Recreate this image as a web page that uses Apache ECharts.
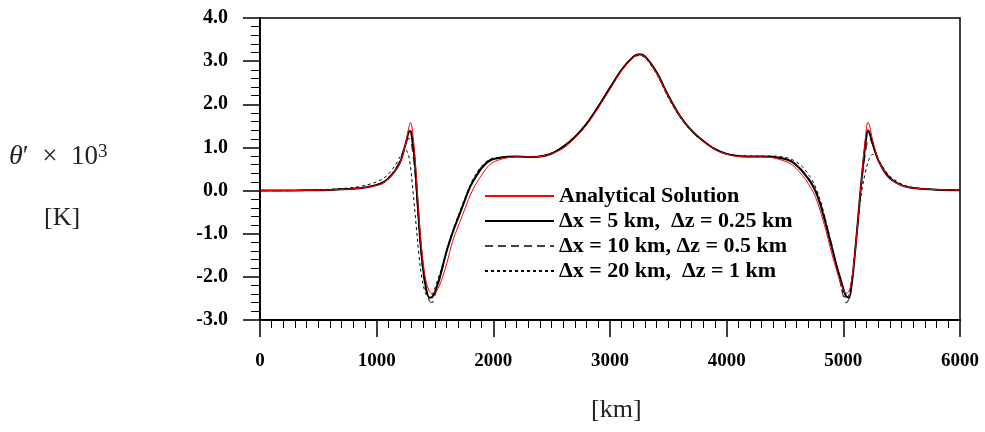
<!DOCTYPE html>
<html>
<head>
<meta charset="utf-8">
<script src="https://cdn.jsdelivr.net/npm/echarts@6/dist/echarts.min.js"></script>
<style>html,body{margin:0;padding:0;background:#fff}#c{width:985px;height:432px}</style>
</head>
<body>
<div id="c"></div>
<script>
// x positions (km)
const xKm = [
  0, 200, 400, 600, 800, 900, 1000,
  1050, 1100, 1150, 1200, 1225, 1250, 1275, 1290,
  1300, 1325, 1350, 1375, 1400, 1425, 1450, 1475, 1500,
  1525, 1550, 1600, 1650, 1700, 1750, 1800, 1850, 1900, 1950, 2000,
  2100, 2200, 2300, 2400, 2500, 2600, 2700, 2800, 2900, 3000, 3100, 3200, 3250,
  3300, 3400, 3500, 3600, 3700, 3800, 3900, 4000, 4100, 4200, 4300, 4400, 4500,
  4550, 4600, 4650, 4700, 4750, 4800, 4850, 4900, 4950, 4975,
  5000, 5025, 5050, 5075, 5100, 5125, 5150, 5175, 5200, 5210,
  5225, 5250, 5275, 5300, 5350, 5400, 5500, 5600, 5800, 6000
];
const analytical = [
  0, 0, 0.005, 0.015, 0.04, 0.07, 0.12,
  0.17, 0.27, 0.42, 0.64, 0.84, 1.1, 1.45, 1.58,
  1.52, 0.9, -0.1, -1.05, -1.72, -2.12, -2.32, -2.39, -2.36,
  -2.27, -2.12, -1.7, -1.18, -0.82, -0.47, -0.12, 0.15, 0.36, 0.55, 0.66,
  0.75, 0.78, 0.78, 0.79, 0.86, 0.98, 1.22, 1.52, 1.92, 2.35, 2.78, 3.09, 3.15,
  3.1, 2.72, 2.18, 1.72, 1.38, 1.14, 0.95, 0.84, 0.79, 0.78, 0.78, 0.76, 0.68,
  0.62, 0.5, 0.35, 0.16, -0.08, -0.45, -0.92, -1.45, -1.92, -2.12,
  -2.3, -2.38, -2.33, -2.0, -1.45, -0.7, 0.1, 0.85, 1.48, 1.58,
  1.5, 1.18, 0.92, 0.72, 0.45, 0.27, 0.12, 0.06, 0.02, 0.01
];
const dx5 = [
  0, 0, 0.005, 0.015, 0.04, 0.07, 0.13,
  0.18, 0.28, 0.43, 0.65, 0.85, 1.1, 1.36, 1.38,
  1.28, 0.72, -0.25, -1.2, -1.85, -2.28, -2.48, -2.47, -2.35,
  -2.15, -1.92, -1.4, -0.98, -0.62, -0.27, 0.08, 0.32, 0.52, 0.66, 0.73,
  0.78, 0.79, 0.78, 0.79, 0.86, 1.02, 1.24, 1.55, 1.95, 2.38, 2.8, 3.1, 3.16,
  3.11, 2.74, 2.2, 1.73, 1.39, 1.15, 0.96, 0.85, 0.8, 0.79, 0.79, 0.78, 0.73,
  0.68, 0.58, 0.44, 0.27, 0.05, -0.3, -0.78, -1.3, -1.82, -2.05,
  -2.28, -2.45, -2.48, -2.1, -1.45, -0.7, 0.08, 0.75, 1.3, 1.39,
  1.33, 1.1, 0.88, 0.7, 0.45, 0.28, 0.12, 0.06, 0.02, 0.01
];
const dx10 = [
  0, 0, 0.005, 0.02, 0.05, 0.08, 0.14,
  0.2, 0.3, 0.46, 0.7, 0.9, 1.1, 1.21, 1.18,
  1.05, 0.5, -0.4, -1.3, -1.95, -2.35, -2.55, -2.6, -2.42,
  -2.2, -1.95, -1.42, -0.98, -0.6, -0.25, 0.1, 0.35, 0.55, 0.68, 0.74,
  0.78, 0.79, 0.78, 0.79, 0.86, 1.02, 1.24, 1.55, 1.95, 2.38, 2.8, 3.1, 3.15,
  3.1, 2.72, 2.18, 1.72, 1.38, 1.14, 0.96, 0.85, 0.8, 0.79, 0.79, 0.78, 0.74,
  0.69, 0.6, 0.47, 0.3, 0.08, -0.25, -0.72, -1.25, -1.85, -2.15,
  -2.45, -2.6, -2.5, -2.05, -1.4, -0.7, 0.0, 0.6, 1.05, 1.17,
  1.2, 1.08, 0.9, 0.72, 0.47, 0.3, 0.13, 0.06, 0.02, 0.01
];
const dx20 = [
  0, 0, 0.01, 0.03, 0.07, 0.12, 0.2,
  0.27, 0.38, 0.55, 0.78, 0.9, 0.94, 0.8, 0.55,
  0.3, -0.4, -1.15, -1.8, -2.2, -2.42, -2.5, -2.42, -2.25,
  -2.05, -1.85, -1.38, -0.95, -0.58, -0.22, 0.12, 0.38, 0.57, 0.69, 0.75,
  0.78, 0.79, 0.78, 0.8, 0.87, 1.03, 1.26, 1.57, 1.96, 2.4, 2.8, 3.08, 3.13,
  3.08, 2.7, 2.15, 1.7, 1.37, 1.14, 0.96, 0.86, 0.81, 0.8, 0.8, 0.8, 0.77,
  0.73, 0.66, 0.55, 0.38, 0.15, -0.2, -0.7, -1.25, -1.85, -2.15,
  -2.4, -2.5, -2.4, -2.0, -1.4, -0.75, -0.15, 0.25, 0.55, 0.65,
  0.75, 0.84, 0.82, 0.72, 0.5, 0.33, 0.15, 0.07, 0.02, 0.01
];
const seriesNames = [
  'Analytical Solution',
  'Δx = 5 km,  Δz = 0.25 km',
  'Δx = 10 km, Δz = 0.5 km',
  'Δx = 20 km,  Δz = 1 km'
];
const xTickMin = 0, xTickMax = 6000, xTickStep = 1000;
const yTickMin = -3, yTickMax = 4, yTickStep = 1;

const pairs = arr => xKm.map((x, i) => [x, arr[i]]);
const SERIF = '"Liberation Serif", "Times New Roman", serif';

const chart = echarts.init(document.getElementById('c'), null, {renderer: 'canvas'});
chart.setOption({
  animation: false,
  backgroundColor: '#fff',
  grid: {left: 260, right: 25, top: 18, bottom: 112, show: true, borderColor: '#000', borderWidth: 1.5, backgroundColor: 'transparent'},
  xAxis: {
    type: 'value', min: xTickMin, max: xTickMax, interval: xTickStep,
    axisLine: {show: true, onZero: false, lineStyle: {color: '#000', width: 2}},
    axisTick: {show: true, length: 17, lineStyle: {color: '#000', width: 1.5}},
    minorTick: {show: true, splitNumber: 10, length: 8, lineStyle: {color: '#000', width: 1}},
    splitLine: {show: false},
    axisLabel: {margin: 32, color: '#000', fontFamily: SERIF, fontWeight: 'bold', fontSize: 19,
      formatter: v => String(v)}
  },
  yAxis: {
    type: 'value', min: yTickMin, max: yTickMax, interval: yTickStep,
    axisLine: {show: true, onZero: false, lineStyle: {color: '#000', width: 2}},
    axisTick: {show: true, length: 17, lineStyle: {color: '#000', width: 1.5}},
    minorTick: {show: true, splitNumber: 5, length: 9, lineStyle: {color: '#000', width: 1}},
    splitLine: {show: false},
    axisLabel: {margin: 32, color: '#000', fontFamily: SERIF, fontWeight: 'bold', fontSize: 20,
      formatter: v => v.toFixed(1)}
  },
  legend: {
    orient: 'vertical', left: 484, top: 185, padding: 0,
    itemWidth: 69, itemHeight: 14, itemGap: 3,
    itemStyle: {opacity: 0},
    data: seriesNames,
    textStyle: {color: '#000', fontFamily: SERIF, fontWeight: 'bold', fontSize: 22, lineHeight: 22}
  },
  graphic: [
    {type: 'text', left: 9, top: 143, style: {text: '{i|θ}{n|′  ×  10}{s|3}', fill: '#222',
      fontSize: 27, fontFamily: SERIF,
      rich: {
        i: {fontStyle: 'italic', fontSize: 28, fontFamily: SERIF, fill: '#222'},
        n: {fontSize: 27, fontFamily: SERIF, fill: '#222'},
        s: {fontSize: 19, fontFamily: SERIF, fill: '#222', verticalAlign: 'top'}
      }}},
    {type: 'text', left: 44, top: 205, style: {text: '[K]', fill: '#222', fontSize: 26, fontFamily: SERIF}},
    {type: 'text', left: 591, top: 397, style: {text: '[km]', fill: '#222', fontSize: 26, fontFamily: SERIF}}
  ],
  series: [
    {name: seriesNames[0], type: 'line', data: pairs(analytical), symbol: 'none', showSymbol: false, smooth: 0.3, z: 5,
      lineStyle: {color: '#f00', width: 1}, itemStyle: {color: '#f00'}},
    {name: seriesNames[1], type: 'line', data: pairs(dx5), symbol: 'none', showSymbol: false, smooth: 0.3, z: 4,
      lineStyle: {color: '#000', width: 2}, itemStyle: {color: '#000'}},
    {name: seriesNames[2], type: 'line', data: pairs(dx10), symbol: 'none', showSymbol: false, smooth: 0.3, z: 3,
      lineStyle: {color: '#444', width: 1.2, type: [8, 5]}, itemStyle: {color: '#444'}},
    {name: seriesNames[3], type: 'line', data: pairs(dx20), symbol: 'none', showSymbol: false, smooth: 0.3, z: 3,
      lineStyle: {color: '#000', width: 1, type: [3, 3]}, itemStyle: {color: '#000'}}
  ]
});
</script>
</body>
</html>
